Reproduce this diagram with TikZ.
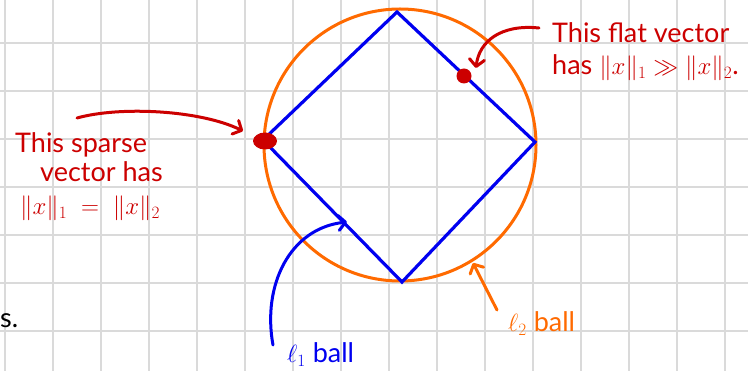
\documentclass[tikz,border=0pt]{standalone}
\usepackage{fontspec}
\setmainfont{Lato}
\usetikzlibrary{arrows.meta,shapes.geometric}
\definecolor{gridgray}{HTML}{DADADA}
\definecolor{inkred}{HTML}{CC0000}
\definecolor{inkblue}{HTML}{0000F0}
\definecolor{inkorange}{HTML}{FF6A00}
\tikzset{
  gridline/.style={gridgray, line width=1.6pt},
  lone/.style={inkblue, line width=3.2pt, line join=miter},
  pointer/.style={line width=3pt, line cap=round, line join=round,
    -{Straight Barb[length=7pt,width=15pt,line cap=round,line join=round]}},
  hand/.style={inner sep=0pt, anchor=base west, font=\fontsize{27}{32}\selectfont},
}
\begin{document}
\begin{tikzpicture}[x=1pt,y=-1pt]
\useasboundingbox (0,0) rectangle (748,371);
\fill[white] (0,0) rectangle (748,371);
\clip (0,0) rectangle (748,371);
% grid
\foreach \gx in {5,53,...,773} \draw[gridline] (\gx,0) -- (\gx,371);
\foreach \gy in {-5,43,...,379} \draw[gridline] (0,\gy) -- (748,\gy);
% l2 ball
\node[draw=inkorange, line width=3pt, circle, minimum size=272pt, inner sep=0pt] (circ) at (400,145) {};
% l1 ball
\coordinate (T) at (397,12);
\coordinate (R) at (535,142);
\coordinate (B) at (402,282);
\coordinate (L) at (263,140);
\draw[lone] (T) -- (R) -- (B) -- (L) -- cycle;
% dots
\node[fill=inkred, ellipse, minimum width=24pt, minimum height=17pt, inner sep=0pt] (sparse) at (265,141) {};
\node[fill=inkred, circle, minimum size=15pt, inner sep=0pt] (flat) at (464,76) {};
% texts
\node[hand, text=inkred] (t1) at (15,153) {This sparse};
\node[hand, text=inkred] (t2) at (40,182) {vector has};
\node[hand, text=inkred] (t3) at (20,215) {$\|x\|_1 \;=\; \|x\|_2$};
\node[hand, text=inkred] (t4) at (552,43) {This flat vector};
\node[hand, text=inkred] (t5) at (552,75) {has $\|x\|_1 \gg \|x\|_2$.};
\node[hand, text=inkblue] (t6) at (287,363) {$\ell_1$ ball};
\node[hand, text=inkorange] (t7) at (508,332) {$\ell_2$ ball};
\node[hand, text=black] (t8) at (0,328) {s.};
% arrows
\coordinate (a1s) at (77,118);
\coordinate (a1e) at (243,131);
\draw[pointer, inkred] (a1s) .. controls (120,106) and (200,110) .. (a1e);
\coordinate (a2s) at (539,28);
\coordinate (a2e) at (476,68);
\draw[pointer, inkred] (a2s) .. controls (500,24) and (479,42) .. (a2e);
\coordinate (a3s) at (273,345);
\coordinate (a3e) at (347,222);
\draw[pointer, inkblue] (a3s) .. controls (262,285) and (290,228) .. (a3e);
\coordinate (a4s) at (497,310);
\coordinate (a4e) at (473,263);
\draw[pointer, inkorange] (a4s) -- (a4e);
\end{tikzpicture}
\end{document}
